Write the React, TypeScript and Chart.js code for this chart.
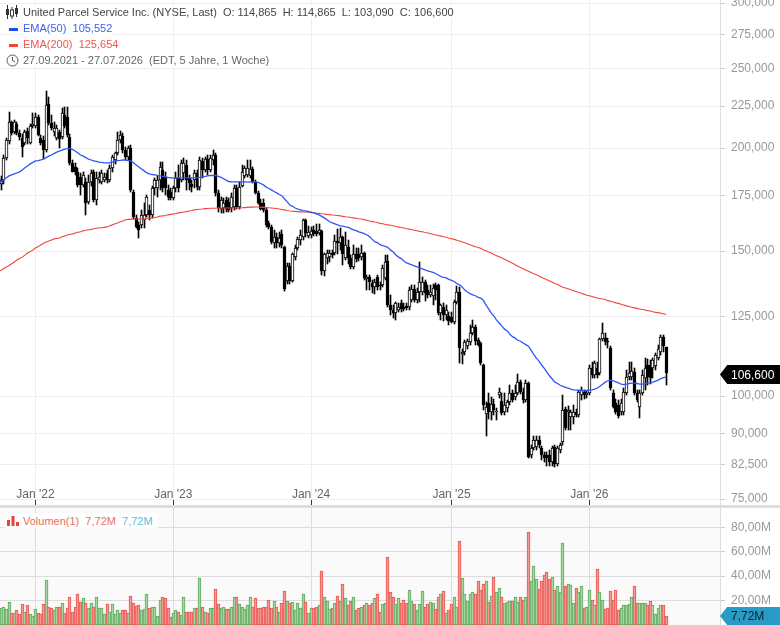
import React, { useEffect, useRef } from "react";
import { Chart, registerables } from "chart.js";

Chart.register(...registerables);

// Weekly candles, 27.09.2021 - 27.07.2026 (prices in USD, shown German style: 114,865)
const opens = [
  180.5,181.0,183.0,194.6,204.0,215.1,209.1,213.9,208.6,205.7,
  202.8,209.7,202.8,212.7,212.7,218.1,205.7,204.5,198.9,226.2,
  214.5,209.1,205.7,209.1,206.3,219.3,218.1,206.3,191.9,189.8,
  187.2,184.6,180.5,182.0,172.1,182.0,187.2,173.0,183.0,182.0,
  183.0,186.6,183.0,189.3,193.5,197.3,204.5,206.8,198.9,195.1,
  200.0,177.0,164.6,161.4,161.4,163.7,166.0,168.3,166.0,179.0,
  179.0,183.0,188.2,184.6,178.0,177.0,174.0,179.0,184.1,183.0,
  186.6,190.8,184.1,181.0,183.0,186.6,179.5,193.0,188.2,194.0,
  188.2,193.5,196.2,176.5,168.7,169.2,173.0,172.1,169.2,169.7,
  179.0,169.7,180.0,185.1,185.6,185.1,188.7,182.0,176.5,171.6,
  171.6,168.3,162.3,160.5,153.6,156.2,153.6,157.5,151.9,137.8,
  143.7,137.8,147.7,151.5,154.9,156.2,163.7,156.6,157.0,159.2,
  158.8,157.9,158.8,141.7,147.3,147.7,149.0,149.4,154.4,153.6,
  156.2,147.3,151.9,147.3,143.3,148.6,148.6,147.7,149.0,138.8,
  139.6,137.2,135.7,139.6,136.5,136.5,139.2,145.9,129.0,127.2,
  126.1,127.2,129.7,128.3,128.6,128.3,130.8,134.9,130.8,133.8,
  133.8,137.6,134.5,132.7,132.4,136.5,136.5,126.1,128.3,125.4,
  125.1,124.7,123.0,130.1,133.8,112.4,113.1,114.9,116.3,119.3,
  121.3,116.9,116.0,109.1,95.1,98.0,95.7,97.8,95.7,100.3,
  98.6,95.7,96.7,98.3,100.8,99.7,100.8,104.0,101.1,98.9,
  103.7,84.8,86.5,86.7,88.4,86.5,84.8,84.8,84.8,83.1,
  86.7,82.8,86.0,87.9,96.4,95.7,94.4,94.4,95.7,94.9,
  100.3,101.1,100.3,100.8,108.1,106.1,108.1,106.6,117.3,117.6,
  116.6,114.3,100.8,98.0,97.5,95.7,95.7,100.8,105.5,105.5,
  106.9,100.8,96.9,100.8,105.2,109.1,109.1,108.1,108.8,111.2,
  113.1,117.9,114.865,
];
const highs = [
  187.2,185.1,196.2,205.7,221.1,215.7,216.3,215.1,210.3,208.0,
  210.3,211.5,213.9,220.5,220.5,219.3,207.4,206.8,234.5,230.6,
  219.3,215.1,213.3,210.3,223.6,224.3,224.3,208.0,193.5,191.9,
  189.3,186.6,187.2,184.1,185.6,188.2,188.2,187.2,187.2,188.2,
  186.6,188.2,190.8,196.2,197.8,209.1,209.7,208.6,200.6,201.2,
  201.7,178.0,166.0,162.8,168.3,171.6,175.5,170.6,180.0,184.1,
  185.1,192.4,192.4,187.2,180.5,179.0,180.0,187.2,190.8,193.5,
  194.6,193.5,185.6,183.0,188.2,188.2,195.1,194.6,195.1,196.2,
  196.2,198.9,197.3,178.0,174.5,174.0,174.5,174.0,176.5,180.5,
  180.5,182.0,190.8,190.3,193.5,193.5,189.8,183.0,177.5,173.5,
  173.5,169.2,163.2,161.4,159.2,157.9,158.3,159.2,152.3,144.9,
  144.9,149.4,152.7,156.2,159.2,164.1,164.1,161.0,160.5,161.0,
  161.9,161.9,159.2,149.4,150.6,150.6,150.6,157.0,159.7,160.1,
  156.6,158.3,154.9,148.2,152.7,151.5,151.5,152.7,149.8,140.3,
  140.3,138.4,138.8,140.3,137.6,144.3,148.4,148.4,132.7,129.0,
  130.1,129.7,130.8,129.7,129.7,135.7,136.5,136.5,135.3,145.5,
  139.6,138.4,136.5,136.5,136.9,137.2,136.9,129.3,129.7,129.0,
  126.5,126.5,130.8,136.1,135.7,114.0,116.9,117.3,122.0,123.7,
  122.0,117.6,116.3,109.4,98.3,100.8,99.9,99.3,96.7,102.3,
  100.8,100.8,98.9,103.1,101.7,103.1,106.3,104.6,102.3,104.6,
  104.0,87.2,89.4,89.4,89.4,87.0,85.5,85.5,86.0,87.0,
  87.2,87.0,87.7,100.3,97.0,97.2,96.2,97.5,96.4,101.7,
  102.5,101.7,101.4,109.1,110.0,110.3,110.0,117.6,122.7,119.3,
  117.6,115.0,101.7,99.3,98.9,99.3,102.3,107.5,110.0,110.0,
  108.1,101.7,101.7,107.5,111.2,110.9,110.6,111.2,112.7,115.3,
  118.6,118.6,114.865,
];
const lows = [
  179.0,178.0,181.0,193.5,202.3,207.4,208.0,207.4,204.5,195.1,
  201.7,202.3,202.3,211.5,211.5,206.8,201.7,194.0,197.8,213.3,
  210.3,206.8,204.5,200.0,205.1,211.5,206.3,190.8,187.2,185.6,
  179.5,175.5,179.5,166.0,171.1,180.0,172.1,170.6,181.5,181.0,
  182.0,181.5,182.0,187.2,191.4,196.2,202.8,197.3,193.5,193.5,
  177.0,164.1,160.1,155.7,160.1,160.1,165.0,163.7,164.6,175.5,
  174.5,178.0,177.0,175.5,173.0,173.0,173.0,177.0,177.0,182.0,
  183.0,178.0,178.0,177.0,179.0,178.0,178.0,184.1,187.2,185.6,
  187.2,190.8,175.0,167.3,166.9,166.9,167.3,167.3,167.3,168.3,
  168.7,168.7,179.5,184.1,184.6,184.1,181.5,176.0,171.1,168.3,
  167.3,160.5,159.7,153.2,151.5,151.1,151.9,151.5,134.0,136.7,
  136.7,137.4,146.5,150.6,152.7,154.9,156.2,155.7,155.7,156.6,
  156.6,157.0,140.5,139.8,144.5,145.7,147.3,148.2,148.6,150.6,
  144.1,146.5,144.5,142.5,142.5,145.3,146.1,146.5,138.4,134.5,
  134.5,133.5,133.1,134.5,134.5,135.7,138.4,128.3,125.4,124.4,
  123.7,126.5,126.5,126.8,127.2,127.2,130.1,130.1,129.7,130.1,
  132.7,130.4,131.6,132.0,129.0,130.8,125.4,123.7,123.4,123.7,
  122.0,122.7,122.4,129.3,109.7,109.4,112.1,114.0,115.3,118.6,
  115.3,115.0,109.1,96.2,89.4,93.9,93.5,94.9,93.5,99.4,
  94.9,94.9,95.7,97.5,98.3,98.9,100.3,100.6,98.0,98.3,
  84.1,84.1,86.0,86.0,86.5,83.6,83.1,82.2,82.2,82.2,
  82.0,82.2,85.3,87.2,90.9,90.9,90.9,92.5,94.4,94.4,
  98.9,99.2,99.4,100.3,105.2,105.2,105.2,106.1,116.6,115.3,
  114.3,101.7,96.7,95.1,94.1,94.9,94.9,100.3,104.6,104.6,
  100.3,98.3,94.0,100.3,101.7,103.1,103.4,105.2,107.5,110.6,
  112.1,113.1,103.09,
];
const closes = [
  184.1,183.0,194.6,204.5,215.1,208.6,215.1,208.6,206.3,200.6,
  209.1,205.7,212.7,213.9,218.1,207.4,202.8,198.9,225.5,214.5,
  211.5,211.5,211.5,205.1,220.5,212.7,207.4,191.9,187.2,187.2,
  180.5,180.5,185.6,171.6,182.0,186.6,173.0,184.1,184.6,186.6,
  184.6,183.0,189.3,195.1,197.3,204.5,207.4,198.9,195.1,200.0,
  178.0,165.0,160.5,159.2,166.0,166.0,174.5,166.0,179.0,183.0,
  183.0,189.8,179.0,179.0,174.5,174.0,179.0,184.1,179.0,191.9,
  191.9,183.0,181.5,179.5,186.6,179.5,193.5,188.2,194.0,188.2,
  194.6,196.2,176.5,169.2,173.0,171.6,168.7,168.3,174.5,179.0,
  169.7,179.5,187.2,189.3,189.3,188.7,182.0,176.5,171.6,168.7,
  168.3,161.4,160.5,154.0,156.2,153.6,155.7,152.7,135.1,143.7,
  137.8,148.6,151.5,155.3,157.0,163.7,157.9,158.3,158.8,157.5,
  157.5,159.2,141.7,148.6,149.0,149.0,148.2,154.4,153.6,156.2,
  148.6,152.7,147.3,143.3,148.6,146.9,147.3,149.0,139.2,139.6,
  137.6,135.7,137.6,135.7,136.1,143.1,145.5,129.0,127.2,126.1,
  129.7,128.3,127.6,127.6,127.9,134.5,134.9,130.8,133.8,137.6,
  137.6,133.4,132.7,133.8,135.3,134.5,126.1,129.0,125.4,127.2,
  123.4,123.0,130.1,133.8,114.4,113.1,116.3,116.6,119.3,121.3,
  116.6,115.3,109.7,97.5,96.9,95.7,97.8,96.2,95.9,101.1,
  95.4,97.5,98.3,100.8,98.9,100.8,104.0,101.1,98.9,103.7,
  84.3,86.5,88.4,88.4,87.2,84.8,84.1,84.1,83.1,86.5,
  82.8,86.5,87.2,96.2,91.4,96.2,95.7,95.7,94.9,101.1,
  101.7,100.3,100.8,108.1,106.1,109.7,106.1,117.3,119.3,116.3,
  116.3,102.3,97.0,95.7,94.6,98.0,101.1,105.5,106.6,107.2,
  100.8,98.9,100.8,106.1,108.1,105.5,105.2,110.6,112.1,114.0,
  117.9,115.0,106.6,
];
const ema50 = [
  181.0,182.0,183.0,184.1,185.1,185.6,186.1,186.6,187.2,188.2,
  189.3,190.3,191.4,192.2,193.0,193.2,193.5,194.0,194.8,195.6,
  196.2,197.0,197.8,198.4,198.9,199.5,199.7,199.7,199.2,198.4,
  197.3,196.2,195.6,194.8,194.0,193.5,193.0,192.7,192.4,192.2,
  191.9,191.9,191.9,192.4,193.0,193.2,193.3,193.5,193.5,193.2,
  193.0,191.9,190.8,189.8,188.7,187.7,186.6,186.1,185.8,185.6,
  185.3,185.1,184.8,184.6,184.3,184.1,184.1,184.1,184.1,184.1,
  184.1,184.1,184.1,184.1,184.1,184.1,184.3,184.6,184.8,185.1,
  185.3,185.4,185.3,184.8,184.3,183.6,182.8,182.2,182.0,182.0,
  182.0,182.0,182.0,182.0,181.9,182.0,182.0,182.0,181.8,181.2,
  180.5,179.5,178.7,178.0,177.2,176.5,175.7,175.0,173.5,172.1,
  170.6,170.0,169.2,168.7,168.3,168.0,167.8,167.5,167.2,166.9,
  166.4,166.0,165.3,164.6,163.7,162.8,162.3,161.9,161.4,161.0,
  160.8,160.5,160.3,159.7,159.2,158.8,158.3,157.9,157.5,157.0,
  156.2,155.1,154.0,153.6,152.7,152.3,152.0,151.5,150.4,149.6,
  148.4,147.5,146.9,145.9,145.1,144.7,144.3,143.9,143.5,143.1,
  142.7,142.3,141.9,141.6,141.3,140.9,140.3,139.7,139.4,139.2,
  138.6,138.2,137.8,137.0,136.5,135.7,134.5,133.8,133.2,132.7,
  132.4,131.8,131.5,130.8,129.0,127.6,126.1,125.1,123.7,122.7,
  121.6,120.6,120.0,118.9,118.1,117.6,116.9,116.6,116.0,115.5,
  115.0,113.7,112.4,111.2,110.3,109.1,108.1,106.9,105.8,104.9,
  104.0,103.6,103.1,102.8,102.5,102.3,102.0,101.8,101.7,101.6,
  101.6,101.6,101.6,101.7,101.8,102.0,102.3,102.8,103.4,104.0,
  104.4,104.6,104.4,104.1,103.8,103.4,103.3,103.4,103.6,103.7,
  103.7,103.6,103.4,103.4,103.6,103.7,103.8,104.0,104.3,104.6,
  105.0,105.3,105.552,
];
const ema200 = [
  141.8,142.2,142.9,143.5,144.1,144.8,145.5,146.3,146.9,147.5,
  148.3,149.2,149.8,150.4,151.3,151.9,152.6,153.3,153.9,154.3,
  154.7,155.2,155.4,155.6,156.1,156.5,156.9,157.2,157.4,157.8,
  158.1,158.3,158.8,159.0,159.2,159.4,159.7,159.9,160.1,160.1,
  160.3,160.5,161.0,161.4,161.9,162.3,162.8,163.2,163.7,163.9,
  164.0,164.0,164.1,164.1,164.1,164.1,164.3,164.5,164.6,164.8,
  165.0,165.4,165.5,165.7,166.0,166.2,166.4,166.6,166.9,167.1,
  167.3,167.5,167.8,168.0,168.3,168.5,168.6,168.7,168.9,169.0,
  169.1,169.1,169.1,169.2,169.2,169.2,169.2,169.2,169.2,169.2,
  169.2,169.2,169.3,169.4,169.5,169.6,169.6,169.7,169.7,169.6,
  169.5,169.4,169.3,169.2,169.1,169.0,168.7,168.5,168.3,168.0,
  167.8,167.7,167.6,167.5,167.4,167.3,167.3,167.2,167.1,167.0,
  166.8,166.7,166.5,166.4,166.2,166.1,165.9,165.8,165.7,165.5,
  165.3,165.1,165.0,164.8,164.6,164.4,164.2,164.1,163.8,163.5,
  163.2,163.0,162.7,162.5,162.1,161.9,161.6,161.4,161.2,161.0,
  160.7,160.5,160.2,160.0,159.7,159.5,159.2,159.0,158.8,158.5,
  158.3,158.0,157.8,157.6,157.2,156.9,156.7,156.4,156.1,155.9,
  155.5,155.3,155.0,154.6,154.3,153.9,153.5,153.1,152.7,152.2,
  151.8,151.5,151.2,150.6,150.1,149.6,149.2,148.6,148.1,147.6,
  147.1,146.6,146.1,145.5,145.0,144.4,143.8,143.3,142.8,142.3,
  141.8,141.3,140.8,140.4,139.9,139.3,138.9,138.5,138.0,137.5,
  137.0,136.6,136.1,135.6,135.3,135.0,134.6,134.3,134.0,133.6,
  133.3,133.0,132.6,132.4,132.1,131.8,131.6,131.4,131.2,131.0,
  130.6,130.4,130.1,129.8,129.6,129.3,129.0,128.7,128.5,128.2,
  128.0,127.8,127.6,127.4,127.2,127.0,126.9,126.6,126.4,126.3,
  126.1,125.9,125.654,
];
const volumes = [
  13,14,15,12.7,19.2,10.2,10.2,12.4,9.4,17.3,
  10.8,16,9.4,7.2,12.7,10.2,8.6,16.8,36.4,15,
  14.3,12.4,15,15,17.6,10.2,14.3,22.5,11,14.6,
  25,18.7,21.7,17.6,14.3,18.4,14.9,22.5,13.5,13.5,
  9.4,16.8,11,16.8,9.4,11.9,9.9,11.9,11.9,9.6,
  24.1,18.4,15.7,16,12.1,12.7,25,13.8,15,14.6,
  7.2,20.8,22.5,21.7,14,6.4,10.2,11.9,11,8,
  23.3,11,11,11,13.5,13.5,38.8,15,11,10.2,
  13.5,13.5,29.8,16.8,14.3,15,12.7,12.7,15,23.3,
  23.3,16.8,14.9,12.7,16,22.5,15,21.7,13.5,13.5,
  15,15,20.8,14.3,20,15,11,17.6,28.2,20,
  17.6,19.2,11.9,18.4,14.3,25.7,19.2,10.2,13.5,14.3,
  15,16,44.5,22.5,20,12.7,14.3,18.4,24.1,20,
  33.9,21.7,16,20,22.5,11.9,13.5,15,16,17.6,
  16,18.4,21.7,25,11,16.8,17.6,56,27.4,23.3,
  16.8,21.7,18.4,20.8,18.4,29,20,16.8,11.9,16.8,
  28.2,15,16.8,19.2,18.4,12.7,22.5,25,28.2,10.2,
  11.9,16.8,22.5,15,68.3,38.8,25.7,20,25,27.4,
  25,35.6,29,33.9,35.6,19.2,24.1,39.6,27.4,30.6,
  22.5,18.4,19.2,20,20,23.3,19.2,22.5,20.8,23.3,
  76.4,35.6,48.6,38,29.8,35.6,40.5,43,38,39.6,
  29,31.5,26.6,67.4,32.3,33.9,33,17.6,30.6,26.6,
  32.3,14.3,15,29,20.8,16,45.4,27.4,20.8,12.7,
  14.3,28.2,20.8,29,11.9,14.3,16,16.5,16.8,23.3,
  31.5,18.4,17.6,17.6,18.4,16,20,16,9.4,13.5,
  16,16,7.72,
];

const priceTicks = [75, 82.5, 90, 100, 125, 150, 175, 200, 225, 250, 275, 300];
const volumeTicks = [20, 40, 60, 80];
const yearWeeks = [14, 66, 118, 171, 223];
const yearLabels = ["Jan '22", "Jan '23", "Jan '24", "Jan '25", "Jan '26"];

const X_MIN = 0.6, X_MAX = 272.3;
const P_MIN = 74.81, P_MAX = 302.61;
const V_MAX = 95.7;

const FONT = "'Liberation Sans', Arial, sans-serif";
const weeks = closes.map((_, i) => i);
const isUp = (i: number) => closes[i] >= opens[i];

const deNum = (v: number, d: number) => v.toFixed(d).replace(".", ",");

// Align the bars the scales have placed with the pixel grid, so thin candles stay crisp.
const snapBars = {
  id: "snapBars",
  afterDatasetsUpdate(chart: any) {
    chart.getSortedVisibleDatasetMetas().forEach((meta: any) => {
      if (meta.type !== "bar") return;
      meta.data.forEach((el: any) => {
        el.x = Math.round(el.x - 0.5) + 0.5;
        el.y = Math.round(el.y);
        el.base = Math.round(el.base);
        if (el.y === el.base) el.base += 1;
      });
    });
  },
};

function xScale(showLabels: boolean) {
  return {
    type: "linear",
    min: X_MIN,
    max: X_MAX,
    offset: false,
    afterBuildTicks: (s: any) => {
      s.ticks = yearWeeks.map((v) => ({ value: v }));
    },
    afterFit: (s: any) => {
      s.height = showLabels ? 5 : 0;
      s.paddingLeft = 0;
      s.paddingRight = 0;
    },
    grid: {
      offset: false,
      color: showLabels ? "#eeeeee" : "#dddddd",
      tickColor: "#333333",
      tickLength: showLabels ? 5 : 0,
      drawTicks: showLabels,
    },
    border: { display: false },
    ticks: {
      display: showLabels,
      autoSkip: false,
      maxRotation: 0,
      mirror: true,
      padding: -2,
      color: "#666666",
      font: { family: FONT, size: 12 },
      callback: (v: number) => yearLabels[yearWeeks.indexOf(v)] ?? "",
    },
  };
}

function yAxisFit(s: any) {
  s.width = 60;
  s.paddingTop = 0;
  s.paddingBottom = 0;
}

export default function App() {
  const priceRef = useRef<HTMLCanvasElement>(null);
  const volRef = useRef<HTMLCanvasElement>(null);

  useEffect(() => {
    const price = new Chart(priceRef.current as HTMLCanvasElement, {
      type: "bar",
      plugins: [snapBars],
      data: {
        datasets: [
          {
            type: "line",
            label: "EMA(50)",
            order: 1,
            data: weeks.map((i) => ({ x: i, y: ema50[i] })),
            borderColor: "#2f55f5",
            borderWidth: 1.3,
            pointRadius: 0,
            tension: 0,
          },
          {
            type: "line",
            label: "EMA(200)",
            order: 2,
            data: weeks.map((i) => ({ x: i, y: ema200[i] })),
            borderColor: "#f4433c",
            borderWidth: 1.1,
            pointRadius: 0,
            tension: 0,
          },
          {
            label: "Body",
            order: 3,
            grouped: false,
            barThickness: 3,
            minBarLength: 1,
            borderWidth: 1,
            borderSkipped: false,
            borderColor: "#000000",
            backgroundColor: weeks.map((i) => (isUp(i) ? "#ffffff" : "#000000")),
            data: weeks.map((i) => ({ x: i, y: [opens[i], closes[i]] })),
          },
          {
            label: "Wick",
            order: 4,
            grouped: false,
            barThickness: 1,
            borderWidth: 0,
            backgroundColor: "#000000",
            data: weeks.map((i) => ({ x: i, y: [lows[i], highs[i]] })),
          },
        ] as any,
      },
      options: {
        responsive: false,
        animation: false,
        events: [],
        layout: { padding: 0 },
        plugins: { legend: { display: false }, tooltip: { enabled: false } },
        scales: {
          x: xScale(true),
          y: {
            type: "logarithmic",
            position: "right",
            min: P_MIN,
            max: P_MAX,
            bounds: "data",
            beginAtZero: false,
            afterBuildTicks: (s: any) => {
              s.ticks = priceTicks.map((v) => ({ value: v }));
            },
            afterFit: yAxisFit,
            grid: { color: "#eeeeee", tickColor: "#cccccc", tickLength: 5 },
            border: { color: "#dddddd" },
            ticks: {
              autoSkip: false,
              padding: 6,
              color: "#999999",
              font: { family: FONT, size: 12 },
              callback: (v: number) => deNum(Number(v), 3),
            },
          },
        },
      } as any,
    });

    const vol = new Chart(volRef.current as HTMLCanvasElement, {
      type: "bar",
      plugins: [snapBars],
      data: {
        datasets: [
          {
            label: "Volumen(1)",
            barThickness: 3,
            borderWidth: 1,
            borderSkipped: false,
            borderColor: weeks.map((i) => (isUp(i) ? "#5fa85f" : "#ea5650")),
            backgroundColor: weeks.map((i) => (isUp(i) ? "#a5d7a0" : "#f59793")),
            data: weeks.map((i) => ({ x: i, y: volumes[i] })),
          },
        ] as any,
      },
      options: {
        responsive: false,
        animation: false,
        events: [],
        layout: { padding: 0 },
        plugins: { legend: { display: false }, tooltip: { enabled: false } },
        scales: {
          x: xScale(false),
          y: {
            type: "linear",
            position: "right",
            min: 0,
            max: V_MAX,
            afterBuildTicks: (s: any) => {
              s.ticks = volumeTicks.map((v) => ({ value: v }));
            },
            afterFit: yAxisFit,
            grid: { color: "#dddddd", tickColor: "#cccccc", tickLength: 5 },
            border: { color: "#dddddd" },
            ticks: {
              autoSkip: false,
              padding: 6,
              color: "#999999",
              font: { family: FONT, size: 12 },
              callback: (v: number) => `${deNum(Number(v), 2)}M`,
            },
          },
        },
      } as any,
    });

    return () => {
      price.destroy();
      vol.destroy();
    };
  }, []);

  const abs = (s: React.CSSProperties): React.CSSProperties => ({ position: "absolute", whiteSpace: "pre", lineHeight: "14px", ...s });
  const legendBg = "rgba(255,255,255,0.75)";

  return (
    <div style={{ position: "absolute", left: 0, top: 0, width: 780, height: 625, overflow: "hidden", background: "#fff", fontFamily: FONT, fontSize: 11 }}>
      <div style={{ position: "absolute", left: 0, top: 508, width: 720, height: 117, background: "#fafafa" }} />
      <canvas ref={priceRef} width={780} height={505} style={{ position: "absolute", left: 0, top: 0 }} />
      <canvas ref={volRef} width={780} height={117} style={{ position: "absolute", left: 0, top: 508 }} />
      <div style={{ position: "absolute", left: 0, top: 505, width: 780, height: 3, background: "#dddddd" }} />
      <div style={{ position: "absolute", left: 720, top: 0, width: 1, height: 505, background: "#dddddd" }} />

      {/* price legend */}
      <svg width="14" height="14" style={{ position: "absolute", left: 5, top: 5 }}>
        <path d="M2.5 0V14M7 2V14M11.5 0V12" stroke="#333" strokeWidth="1" />
        <rect x="1" y="4" width="3" height="6" fill="#333" />
        <rect x="5.5" y="5" width="3" height="6" fill="#fff" stroke="#333" />
        <rect x="10" y="3" width="3" height="6" fill="#333" />
      </svg>
      <div style={abs({ left: 23, top: 5, color: "#444", background: legendBg })}>United Parcel Service Inc. (NYSE, Last)  O: 114,865  H: 114,865  L: 103,090  C: 106,600</div>

      <div style={{ position: "absolute", left: 9, top: 28, width: 9, height: 3, background: "#1f4df5" }} />
      <div style={abs({ left: 23, top: 21, color: "#3b62f6", background: legendBg })}>EMA(50)  105,552</div>

      <div style={{ position: "absolute", left: 9, top: 44, width: 9, height: 3, background: "#f4433c" }} />
      <div style={abs({ left: 23, top: 37, color: "#f4544c", background: legendBg })}>EMA(200)  125,654</div>

      <svg width="13" height="13" style={{ position: "absolute", left: 6, top: 54 }}>
        <circle cx="6.5" cy="6.5" r="5.5" fill="none" stroke="#555" strokeWidth="1" />
        <path d="M6.5 3V6.5L9 8" fill="none" stroke="#555" strokeWidth="1" />
      </svg>
      <div style={abs({ left: 23, top: 53, color: "#666", background: legendBg })}>27.09.2021 - 27.07.2026  (EDT, 5 Jahre, 1 Woche)</div>

      {/* volume legend */}
      <div style={{ position: "absolute", left: 5, top: 513, width: 153, height: 15, background: "#fff" }} />
      <svg width="12" height="10" style={{ position: "absolute", left: 7, top: 516 }}>
        <rect x="0" y="4" width="3" height="6" fill="#e8433c" />
        <rect x="4.5" y="0" width="3" height="10" fill="#e8433c" />
        <rect x="9" y="6" width="3" height="4" fill="#e8433c" />
      </svg>
      <div style={abs({ left: 23, top: 514, color: "#ee6a64" })}>Volumen(1)  7,72M  <span style={{ color: "#62bcdc" }}>7,72M</span></div>

      {/* last value tags */}
      <div style={{ position: "absolute", left: 720, top: 365, width: 60, height: 19, background: "#000", clipPath: "polygon(0 50%, 12% 0, 100% 0, 100% 100%, 12% 100%)" }} />
      <div style={abs({ left: 731, top: 367.5, color: "#fff", fontSize: 12 })}>106,600</div>
      <div style={{ position: "absolute", left: 720, top: 607, width: 60, height: 18, background: "#2a9bc6", clipPath: "polygon(0 50%, 12% 0, 100% 0, 100% 100%, 12% 100%)" }} />
      <div style={abs({ left: 731, top: 609, color: "#10202a", fontSize: 12 })}>7,72M</div>
    </div>
  );
}
